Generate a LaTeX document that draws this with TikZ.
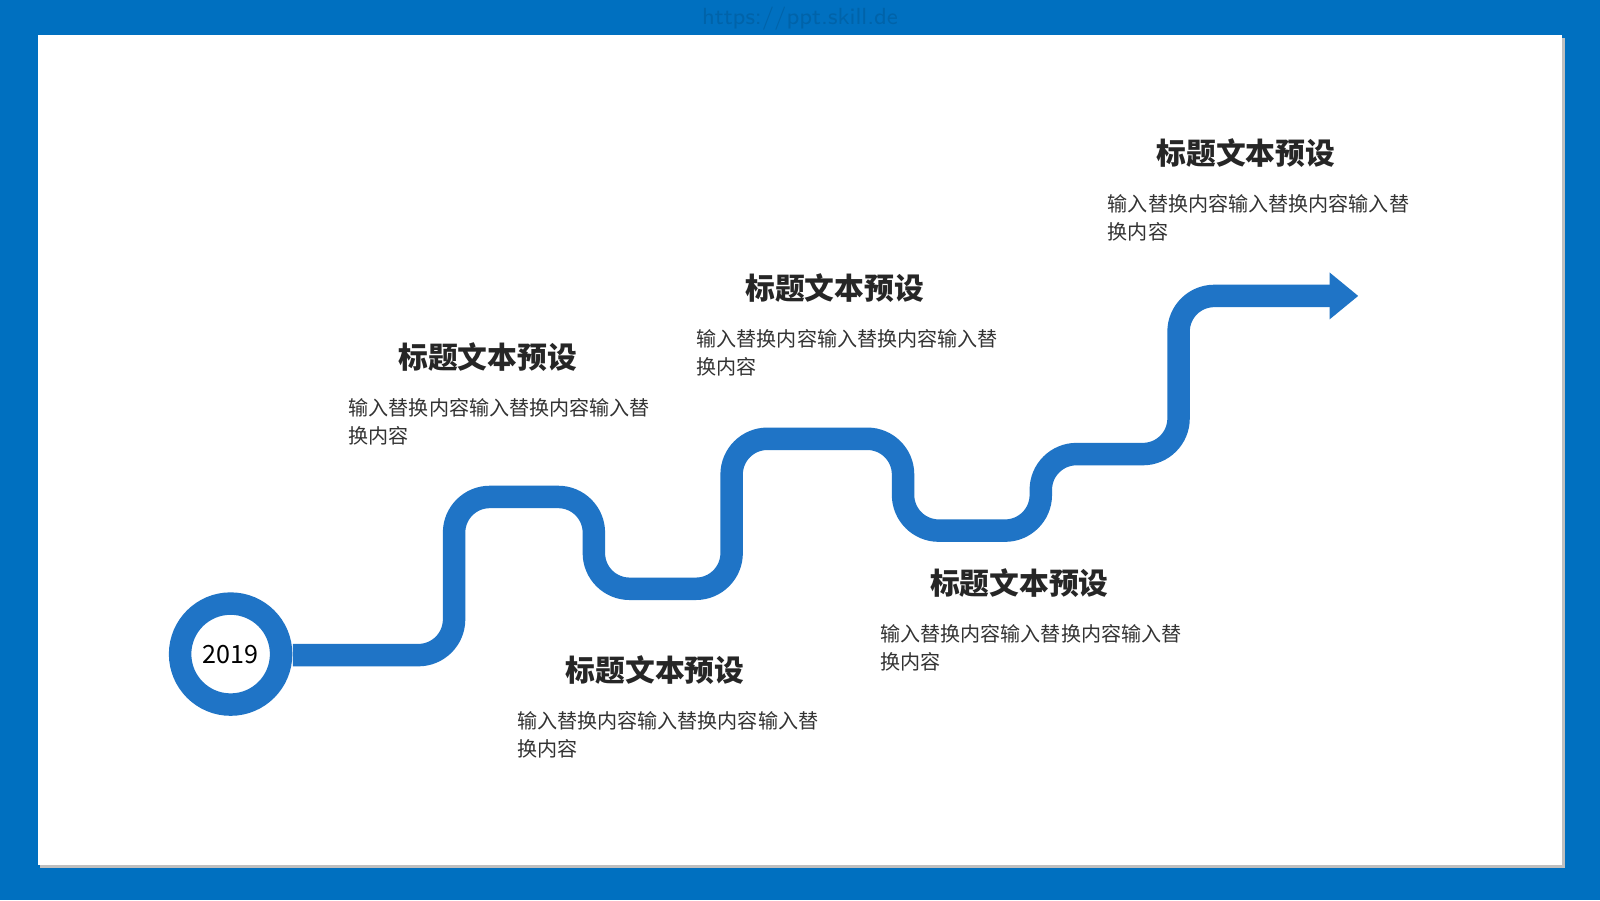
\documentclass[tikz,border=0pt]{standalone}
\usepackage{fontspec}
\setmainfont{Noto Sans CJK SC}
\newfontfamily\cjk{Noto Sans CJK SC}
\begin{document}
\begin{tikzpicture}[x=0.1mm,y=-0.1mm,
  road/.style={draw=roadc,line width=2.2mm},
  ttl/.style={font=\cjk\fontsize{8.3}{9.5}\selectfont\bfseries,text=black!85,inner sep=0},
  body/.style={font=\cjk\fontsize{5.6}{7.8}\selectfont,text=black!80,anchor=north west,inner sep=0,align=left}]
\definecolor{roadc}{HTML}{1F74C6}
\definecolor{frame}{HTML}{0070C0}
\useasboundingbox (0,0) rectangle (1568,882);
\fill[frame] (0,0) rectangle (1568,882);
\fill[black!25] (39,37) rectangle (1534,851);
\fill[white] (37,34) rectangle (1531,848);
\node[font=\sffamily\fontsize{6.5}{7}\selectfont,text=black!12!frame] (wm) at (784,18) {https://ppt.skill.de};
\coordinate (s) at (287,642);
\coordinate (e) at (1305,290);
\draw[road,rounded corners=3.5mm] (s) -- (445,642) -- (445,487) -- (582,487) -- (582,577) -- (717,577) -- (717,430) -- (885,430) -- (885,520) -- (1020,520) -- (1020,445) -- (1155,445) -- (1155,290) -- (e);
\fill[roadc] (1303,267) -- (1331,290) -- (1303,313) -- cycle;
\node[circle,draw=roadc,line width=2.2mm,minimum size=9.9mm,inner sep=0,fill=white,font=\cjk\fontsize{7}{8}\selectfont] (c) at (226,641) {2019};
\node[ttl] (t1) at (478,350) {标题文本预设};
\node[body] (b1) at (341,390) {输入替换内容输入替换内容输入替\\换内容};
\node[ttl] (t2) at (642,657) {标题文本预设};
\node[body] (b2) at (506,697) {输入替换内容输入替换内容输入替\\换内容};
\node[ttl] (t3) at (818,282) {标题文本预设};
\node[body] (b3) at (682,322) {输入替换内容输入替换内容输入替\\换内容};
\node[ttl] (t4) at (999,571) {标题文本预设};
\node[body] (b4) at (862,611) {输入替换内容输入替换内容输入替\\换内容};
\node[ttl] (t5) at (1221,150) {标题文本预设};
\node[body] (b5) at (1085,190) {输入替换内容输入替换内容输入替\\换内容};
\end{tikzpicture}
\end{document}
